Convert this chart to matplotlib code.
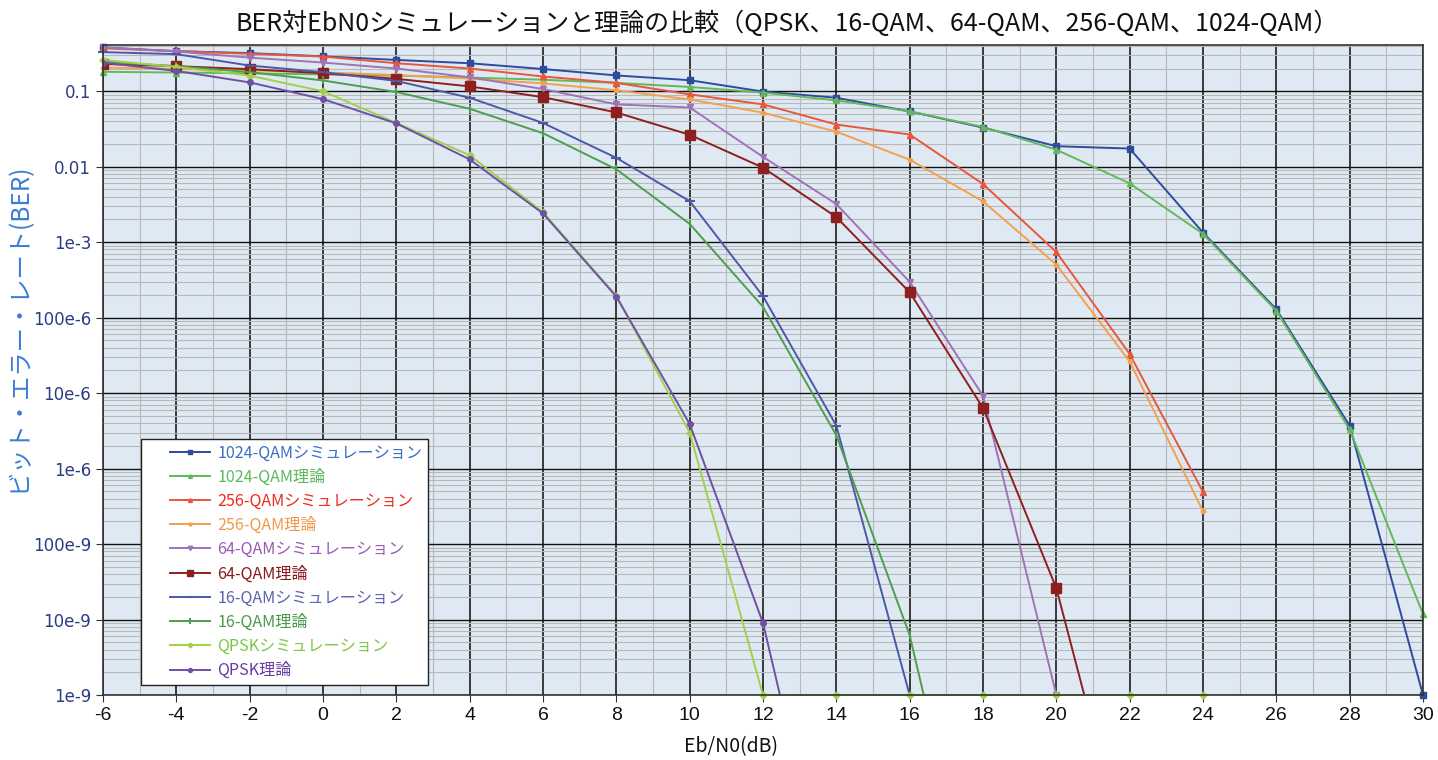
import numpy as np
import matplotlib
matplotlib.use("Agg")
import matplotlib.pyplot as plt
from matplotlib.ticker import FixedLocator, LogLocator, NullFormatter
from matplotlib.legend_handler import HandlerLine2D

plt.rcParams['font.family'] = ['Noto Sans CJK JP', 'DejaVu Sans']

ebn0 = [-6, -4, -2, 0, 2, 4, 6, 8, 10, 12, 14, 16, 18, 20, 22, 24, 26, 28, 30]

qam1024_sim = [0.38, 0.34, 0.32, 0.29, 0.26, 0.235, 0.197, 0.162, 0.14, 0.099, 0.082,
               0.054, 0.033, 0.0187, 0.0174, 1.34e-3, 1.29e-4, 3.7e-6, 1e-9]
qam1024_th = [0.181, 0.177, 0.173, 0.167, 0.161, 0.152, 0.142, 0.129, 0.114, 0.096,
              0.0757, 0.0542, 0.0337, 0.0168, 0.00602, 1.29e-3, 1.23e-4, 3.3e-6, 1.18e-8]
qam256_sim = [0.37, 0.34, 0.314, 0.288, 0.235, 0.2, 0.157, 0.129, 0.091, 0.067, 0.0362,
              0.0267, 5.9e-3, 7.4e-4, 3.3e-5, 4.9e-7]
qam256_th = [0.206, 0.198, 0.189, 0.178, 0.164, 0.147, 0.127, 0.103, 0.078, 0.052, 0.0291,
             0.0124, 3.47e-3, 5.05e-4, 2.63e-5, 2.72e-7]
qam64_sim = [0.38, 0.336, 0.279, 0.24, 0.20, 0.153, 0.107, 0.067, 0.061, 0.0135, 3.2e-3,
             2.98e-4, 9.2e-6, 1e-9]
qam64_th = [0.230, 0.215, 0.196, 0.173, 0.146, 0.116, 0.0835, 0.0523, 0.0265, 9.72e-3,
            2.15e-3, 2.17e-4, 6.36e-6, 2.6e-8, 5e-12]
qam16_sim = [0.33, 0.31, 0.219, 0.179, 0.137, 0.082, 0.038, 0.0131, 3.5e-3, 1.93e-4,
             3.7e-6, 1e-9]
qam16_th = [0.245, 0.215, 0.179, 0.139, 0.0976, 0.0586, 0.0278, 9.24e-3, 1.75e-3, 1.39e-4,
            2.76e-6, 6.2e-9, 4.5e-13]
qpsk_sim = [0.26, 0.21, 0.161, 0.1, 0.038, 0.0142, 2.5e-3, 1.95e-4, 3.0e-6, 1e-9, 1e-9,
            1e-9, 1e-9, 1e-9, 1e-9, 1e-9]
qpsk_th = [0.239, 0.186, 0.131, 0.0786, 0.0375, 0.0125, 2.4e-3, 1.9e-4, 3.9e-6, 9.0e-9,
           6.7e-13]

labels = ['1024-QAMシミュレーション', '1024-QAM理論', '256-QAMシミュレーション', '256-QAM理論',
          '64-QAMシミュレーション', '64-QAM理論', '16-QAMシミュレーション', '16-QAM理論',
          'QPSKシミュレーション', 'QPSK理論']
series = [qam1024_sim, qam1024_th, qam256_sim, qam256_th, qam64_sim, qam64_th,
          qam16_sim, qam16_th, qpsk_sim, qpsk_th]
line_colors = ['#2f4b9e', '#62b85a', '#e8573c', '#f4a04c', '#a072b8', '#8e1f1f',
               '#4d58a8', '#4f9d4f', '#a2d04a', '#7050a2']
text_colors = ['#3a6fc4', '#5cb85c', '#ee2a1e', '#f39a4a', '#9b59b6', '#8b1a1a',
               '#5b62b0', '#4c9a4c', '#7ac943', '#6a3fa0']
markers = ['s', '^', '^', 'o', 'v', 's', '_', '|', 'D', 'o']
msizes = [4.5, 4, 4, 3, 4.5, 7, 7, 6, 3.5, 4]

ytick_vals = [1e-1, 1e-2, 1e-3, 1e-4, 1e-5, 1e-6, 1e-7, 1e-8, 1e-9]
ytick_labels = ['0.1', '0.01', '1e-3', '100e-6', '10e-6', '1e-6', '100e-9', '10e-9', '1e-9']
xtick_vals = [-6, -4, -2, 0, 2, 4, 6, 8, 10, 12, 14, 16, 18, 20, 22, 24, 26, 28, 30]


class OffsetLineHandler(HandlerLine2D):
    def get_xdata(self, legend, xdescent, ydescent, width, height, fontsize):
        start = -xdescent + 0.36 * width
        end = -xdescent + width
        return np.array([start, end]), np.array([(start + end) / 2])


fig = plt.figure(figsize=(14.38, 7.6), dpi=100)
ax = fig.add_axes([103/1438, 1-695/760, 1320/1438, 650/760])
ax.set_facecolor('#dfe9f3')
ax.set_yscale('log')
ax.set_xlim(-6, 30)
ax.set_ylim(1e-9, 0.41)

handles = []
for ys, lab, lc, mk, ms in zip(series, labels, line_colors, markers, msizes):
    xs = ebn0[:len(ys)]
    clip = min(ys) < 1e-9
    h, = ax.plot(xs, ys, color=lc, lw=1.4, marker=mk, ms=ms, mec=lc, mfc=lc,
                 mew=1.5 if mk in ('_', '|') else 1.0, label=lab, zorder=3,
                 clip_on=clip)
    handles.append(h)

ax.yaxis.set_major_locator(FixedLocator(ytick_vals))
ax.set_yticklabels(ytick_labels, family='DejaVu Sans')
ax.yaxis.set_minor_locator(LogLocator(base=10, subs=np.arange(2, 10), numticks=100))
ax.yaxis.set_minor_formatter(NullFormatter())
ax.set_xticks(xtick_vals)
ax.set_xticklabels([str(v) for v in xtick_vals], family='Liberation Sans')
ax.set_xticks(np.arange(-5, 30, 2), minor=True)

ax.grid(True, which='major', axis='y', color='#111111', lw=1.0, zorder=1)
ax.grid(True, which='major', axis='x', color='#3a3a3a', lw=1.4, zorder=1)
ax.grid(True, which='minor', axis='both', color='#b8b8b8', lw=0.8, zorder=0.9)
ax.set_axisbelow(True)

ax.tick_params(axis='y', which='major', labelsize=12, labelcolor='#2d3c82', length=5,
               color='#333333')
ax.tick_params(axis='x', which='major', labelsize=14, labelcolor='#111111', length=5,
               color='#333333')
ax.tick_params(which='minor', length=0)
for s in ax.spines.values():
    s.set_color('#333333')
    s.set_linewidth(1.2)
    s.set_zorder(4)

ax.set_title('BER対EbN0シミュレーションと理論の比較（QPSK、16-QAM、64-QAM、256-QAM、1024-QAM）',
             fontsize=18, color='#111111', pad=10, x=(787 - 103) / 1320)
ax.set_xlabel('Eb/N0(dB)', fontsize=14, color='#111111')
ax.xaxis.set_label_coords((731 - 103) / 1320, -0.064)
ax.set_ylabel('ビット・エラー・レート(BER)', fontsize=17.5, color='#3b7dd8')
ax.yaxis.set_label_coords((32 - 103) / 1320, (695 - 327) / 650)

leg = ax.legend(handles=handles, loc='lower left', bbox_to_anchor=(0.0288, 0.0154),
                fontsize=11.6, frameon=True, fancybox=False, edgecolor='#222222',
                framealpha=1.0, handlelength=3.95, handletextpad=0.42, labelspacing=0.44,
                borderpad=0.36, borderaxespad=0, markerscale=0.7,
                handler_map={h: OffsetLineHandler() for h in handles})
leg.get_frame().set_linewidth(1.0)
leg.set_zorder(5)
for t, c in zip(leg.get_texts(), text_colors):
    t.set_color(c)

fig.savefig('out.png', dpi=100)
